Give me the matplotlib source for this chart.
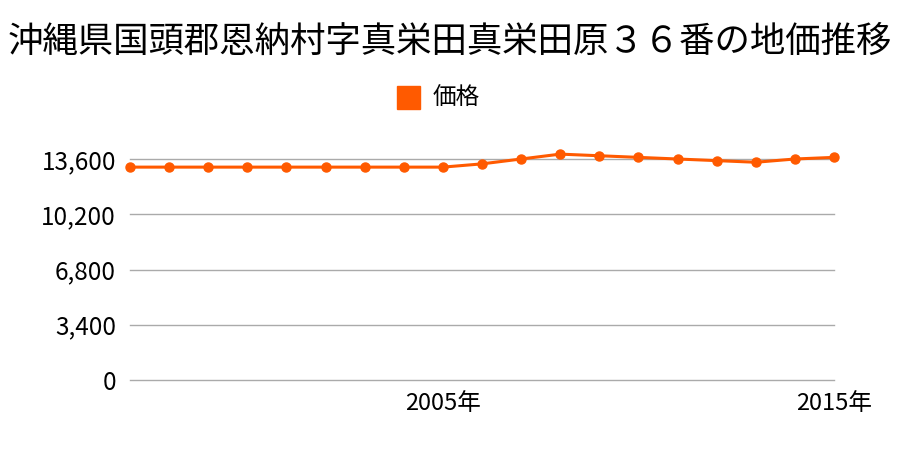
import matplotlib.pyplot as plt

plt.rcParams['font.family'] = ['Noto Sans CJK JP', 'DejaVu Sans']

years = list(range(1997, 2016))
prices = [13100, 13100, 13100, 13100, 13100, 13100, 13100, 13100, 13100,
          13300, 13600, 13900, 13800, 13700, 13600, 13500, 13400, 13600, 13700]
yticks = [0, 3400, 6800, 10200, 13600]
xticks = [2005, 2015]
title = '沖縄県国頭郡恩納村字真栄田真栄田原３６番の地価推移'
color = '#ff5a00'

fig = plt.figure(figsize=(9, 4.5), dpi=100)
ax = fig.add_axes([130/900, 1 - 380/450, (834-130)/900, (380-159)/450])

ax.plot(years, prices, color=color, lw=2.2, marker='o', ms=6.5,
        clip_on=False, zorder=3)

ax.set_xlim(years[0], years[-1])
ax.set_ylim(0, 13600)
ax.set_yticks(yticks)
ax.set_yticklabels([f'{v:,}' for v in yticks])
ax.set_xticks(xticks)
ax.set_xticklabels([f'{y}年' for y in xticks])
ax.tick_params(axis='y', length=0, pad=10, labelsize=17.5)
ax.tick_params(axis='x', length=0, pad=9, labelsize=17)
for v in yticks:
    ax.axhline(v, color='#aaaaaa', lw=1, clip_on=False, zorder=1)
for s in ax.spines.values():
    s.set_visible(False)

fig.text(0.5, 1 - 42/450, title, ha='center', va='center', fontsize=25.5)

# legend
fig.patches.append(plt.Rectangle((397/900, 1 - 109/450), 23/900, 23/450,
                                 transform=fig.transFigure, color=color))
fig.text(433/900, 1 - 98/450, '価格', ha='left', va='center', fontsize=17)

fig.savefig('out.png', dpi=100)
